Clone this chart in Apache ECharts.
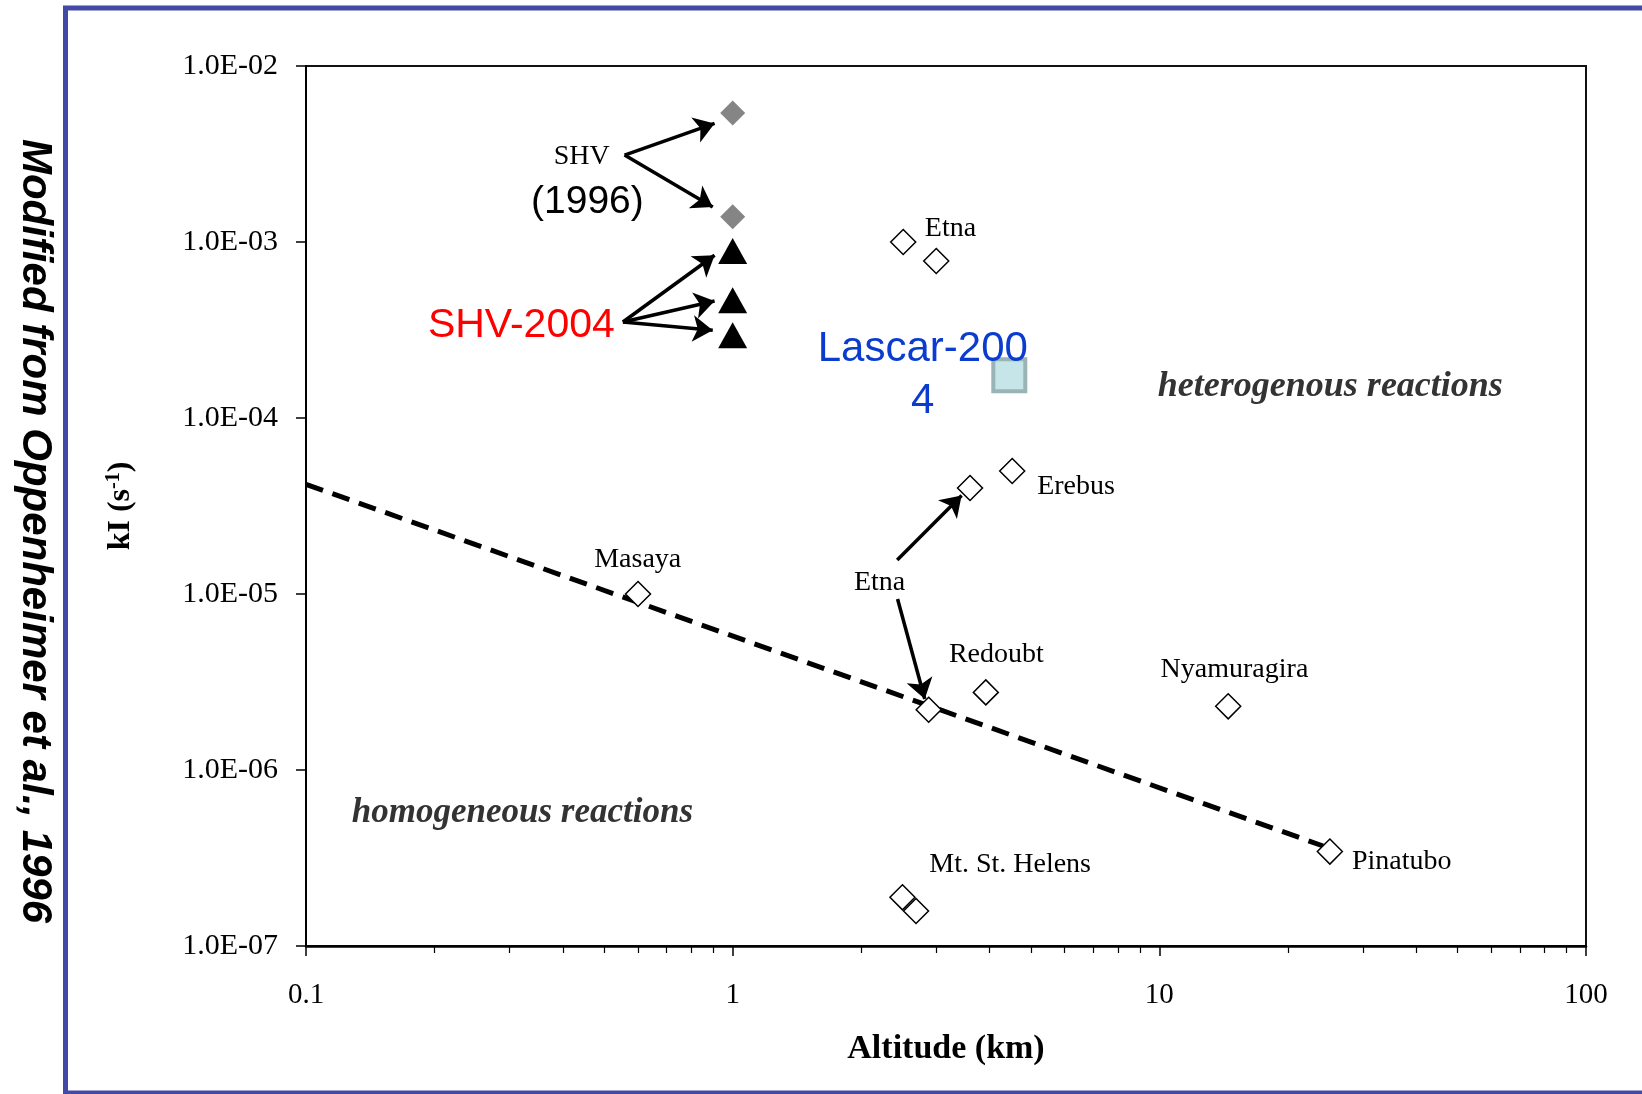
<!DOCTYPE html>
<html>
<head>
<meta charset="utf-8">
<title>k1 vs altitude</title>
<script src="https://cdn.jsdelivr.net/npm/echarts@6.0.0/dist/echarts.min.js"></script>
<style>
    html, body { margin: 0; padding: 0; background: #fff; }
    #chart { width: 1642px; height: 1094px; }
</style>
</head>
<body>
<div id="chart"></div>
<script>
// open diamonds (Oppenheimer et al. 1996 compilation)
const openAlt = [2.51, 3.0, 0.6, 4.52, 3.6, 2.88, 3.92, 14.5, 25.1, 2.5, 2.69];
const openK = [1.0e-3, 7.8e-4, 1.0e-5, 5.0e-5, 4.0e-5, 2.2e-6, 2.76e-6, 2.3e-6, 3.44e-7, 1.89e-7, 1.58e-7];

const shv1996Alt = [1, 1];
const shv1996K = [5.4e-3, 1.39e-3];

const shv2004Alt = [1, 1, 1];
const shv2004K = [8.9e-4, 4.67e-4, 2.95e-4];

const lascarAlt = [4.45];
const lascarK = [1.75e-4];

// dashed trend line, ends
const trendAlt = [0.1, 24.2];
const trendK = [4.2e-5, 3.7e-7];

// volcano names (anchor = text centre, data units)
const labelText = ['Etna', 'Masaya', 'Erebus', 'Etna', 'Redoubt', 'Nyamuragira', 'Mt. St. Helens', 'Pinatubo'];
const labelAlt = [3.24, 0.599, 6.38, 2.21, 4.15, 15.0, 4.47, 37.0];
const labelK = [1.19e-3, 1.565e-5, 4.08e-5, 1.166e-5, 4.53e-6, 3.74e-6, 2.89e-7, 3.01e-7];

// other notes
const noteText = ['SHV', '(1996)', 'SHV-2004', 'Lascar-200\n4', 'heterogenous reactions', 'homogeneous reactions'];
const noteAlt = [0.443, 0.4566, 0.3197, 2.79, 9.92, 0.128];
const noteK = [3.04e-3, 1.69e-3, 3.36e-4, 1.74e-4, 1.514e-4, 5.71e-7];

// arrows: start -> end
const arrowFromAlt = [0.558, 0.558, 0.553, 0.553, 0.553, 2.43, 2.435];
const arrowFromK = [3.12e-3, 3.12e-3, 3.51e-4, 3.51e-4, 3.51e-4, 1.56e-5, 9.37e-6];
const arrowToAlt = [0.907, 0.898, 0.907, 0.907, 0.898, 3.44, 2.82];
const arrowToK = [4.72e-3, 1.58e-3, 8.41e-4, 4.62e-4, 3.15e-4, 3.63e-5, 2.53e-6];

const xMinorTicks = [0.2, 0.3, 0.4, 0.5, 0.6, 0.7, 0.8, 0.9, 2, 3, 4, 5, 6, 7, 8, 9, 20, 30, 40, 50, 60, 70, 80, 90];

const serif = 'Liberation Serif';
const sans = 'Liberation Sans';

const noteStyles = [
    { fontFamily: serif, fontSize: 28, color: '#000' },
    { fontFamily: sans, fontSize: 39, color: '#000' },
    { fontFamily: sans, fontSize: 41, color: '#ff0000' },
    { fontFamily: sans, fontSize: 42, color: '#0a3ccf', lineHeight: 52 },
    { fontFamily: serif, fontSize: 36, color: '#333', fontWeight: 'bold', fontStyle: 'italic', align: 'left' },
    { fontFamily: serif, fontSize: 35, color: '#333', fontWeight: 'bold', fontStyle: 'italic', align: 'left' }
];

function pairs(xs, ys) {
    return xs.map((x, i) => [x, ys[i]]);
}

function sci(v) {
    const e = Math.round(Math.log10(v));
    const a = Math.abs(e);
    return '1.0E' + (e < 0 ? '-' : '+') + (a < 10 ? '0' + a : a);
}

function buildArrows() {
    return arrowFromAlt.map((x, i) => [
        { coord: [x, arrowFromK[i]] },
        { coord: [arrowToAlt[i], arrowToK[i]] }
    ]);
}

function buildSeries() {
    return [
        {
            type: 'line',
            data: pairs(trendAlt, trendK),
            symbol: 'none',
            lineStyle: { color: '#000', width: 5, type: [18, 10] },
            z: 2,
            markLine: {
                silent: true,
                symbol: ['none', 'arrow'],
                symbolSize: 20,
                label: { show: false },
                itemStyle: { color: '#000' },
                lineStyle: { color: '#000', width: 3.5, type: 'solid', opacity: 1 },
                data: buildArrows()
            }
        },
        {
            type: 'scatter',
            data: pairs(openAlt, openK),
            symbol: 'diamond',
            symbolSize: 25,
            itemStyle: { color: '#fff', borderColor: '#000', borderWidth: 1.5, opacity: 1 },
            z: 3
        },
        {
            type: 'scatter',
            data: pairs(shv1996Alt, shv1996K),
            symbol: 'diamond',
            symbolSize: 25,
            itemStyle: { color: '#858585', opacity: 1 },
            z: 3
        },
        {
            type: 'scatter',
            data: pairs(shv2004Alt, shv2004K),
            symbol: 'triangle',
            symbolSize: [29, 26],
            itemStyle: { color: '#000', opacity: 1 },
            z: 3
        },
        {
            type: 'scatter',
            data: pairs(lascarAlt, lascarK),
            symbol: 'rect',
            symbolSize: 32,
            itemStyle: { color: '#c5e5e8', borderColor: '#9ab3b5', borderWidth: 4, opacity: 1 },
            z: 3
        },
        {
            type: 'scatter',
            data: pairs(labelAlt, labelK).map((p, i) => ({ value: p, name: labelText[i] })),
            symbol: 'circle',
            symbolSize: 1,
            itemStyle: { color: 'rgba(0,0,0,0)', opacity: 1 },
            label: {
                show: true,
                position: 'inside',
                formatter: '{b}',
                fontFamily: serif,
                fontSize: 28,
                color: '#000'
            },
            z: 5
        },
        {
            type: 'scatter',
            data: pairs(noteAlt, noteK).map((p, i) => ({
                value: p,
                name: noteText[i],
                label: noteStyles[i]
            })),
            symbol: 'circle',
            symbolSize: 1,
            itemStyle: { color: 'rgba(0,0,0,0)', opacity: 1 },
            label: { show: true, position: 'inside', formatter: '{b}' },
            z: 6
        }
    ];
}

const chart = echarts.init(document.getElementById('chart'));

chart.setOption({
    animation: false,
    backgroundColor: '#fff',
    grid: {
        left: 306,
        right: 56,
        top: 66,
        bottom: 148,
        show: true,
        borderColor: '#111',
        borderWidth: 2
    },
    xAxis: [
        {
            type: 'log',
            logBase: 10,
            min: 0.1,
            max: 100,
            name: 'Altitude (km)',
            nameLocation: 'middle',
            nameGap: 86,
            nameTextStyle: { fontFamily: serif, fontWeight: 'bold', fontSize: 34, color: '#000' },
            axisLine: { lineStyle: { color: '#000', width: 2.5 } },
            axisTick: { length: 10, lineStyle: { color: '#000', width: 1.5 } },
            axisLabel: { margin: 35, fontFamily: serif, fontSize: 29, color: '#000', formatter: v => String(v) },
            splitLine: { show: false }
        },
        {
            type: 'log',
            logBase: 10,
            min: 0.1,
            max: 100,
            position: 'bottom',
            axisLine: { show: false },
            axisTick: { length: 7, customValues: xMinorTicks, lineStyle: { color: '#000', width: 1.2 } },
            axisLabel: { show: false },
            splitLine: { show: false }
        }
    ],
    yAxis: {
        type: 'log',
        logBase: 10,
        min: 1e-7,
        max: 1e-2,
        name: '{b|kI (s}{sup|-1}{b|)}',
        nameLocation: 'middle',
        nameGap: 168,
        nameTextStyle: {
            rich: {
                b: { fontFamily: serif, fontWeight: 'bold', fontSize: 32, color: '#000' },
                sup: { fontFamily: serif, fontWeight: 'bold', fontSize: 20, color: '#000', verticalAlign: 'top', padding: [0, 0, 14, 0] }
            }
        },
        axisLine: { lineStyle: { color: '#000', width: 2 } },
        axisTick: { length: 10, lineStyle: { color: '#000', width: 1.5 } },
        axisLabel: { margin: 28, fontFamily: serif, fontSize: 30, color: '#000', formatter: sci },
        splitLine: { show: false }
    },
    graphic: [
        {
            type: 'rect',
            shape: { x: 65.5, y: 8, width: 1700, height: 1085 },
            style: { fill: 'none', stroke: '#4349a7', lineWidth: 5 },
            silent: true
        },
        {
            type: 'text',
            x: 35,
            y: 531,
            rotation: -Math.PI / 2,
            style: {
                text: 'Modified from Oppenheimer et al., 1996',
                fontFamily: sans,
                fontWeight: 'bold',
                fontStyle: 'italic',
                fontSize: 42,
                fill: '#000',
                align: 'center',
                verticalAlign: 'middle'
            },
            silent: true
        }
    ],
    series: buildSeries()
});
</script>
</body>
</html>
